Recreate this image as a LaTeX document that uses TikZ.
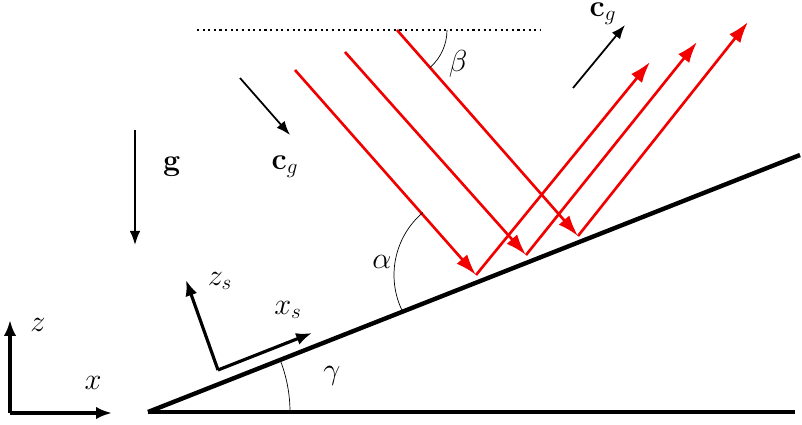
\documentclass[tikz,border=0pt]{standalone}
\usetikzlibrary{arrows.meta}
\begin{document}
\begin{tikzpicture}[x=0.02cm,y=-0.02cm,
 ray/.style={red!95!black,line width=1.5pt,-{Latex[length=12pt,width=8pt]}},
 ax/.style={black,line width=1.8pt,-{Latex[length=9pt,width=7pt]}},
 thin arrow/.style={black,line width=1pt,-{Latex[length=8pt,width=6pt]}},
 lbl/.style={font=\LARGE}]
\useasboundingbox (0,0) rectangle (802,424);
\coordinate (O) at (148,412);
\coordinate (G) at (795,412);
\coordinate (T) at (800,155);
\draw[line width=2.5pt] (O) -- (G);
\draw[line width=2.5pt] (O) -- (T);
\draw (290,412) arc[start angle=0,end angle=-21.5,radius=142];
\node[lbl] (gam) at (332,376) {$\gamma$};
% rays
\foreach \a/\b/\c/\d/\n in {295/70/476/275/1,345/52/526/255/2,397/30/578/236/3}{
 \coordinate (s\n) at (\a,\b); \coordinate (h\n) at (\c,\d);
 \draw[ray] (s\n) -- (h\n);}
\coordinate (e1) at (650,62); \coordinate (e2) at (697,42); \coordinate (e3) at (748,22);
\draw[ray] (h1) -- (e1);
\draw[ray] (h2) -- (e2);
\draw[ray] (h3) -- (e3);
\draw ([shift={(153.4:82)}]h1) arc[start angle=153.4,end angle=229.6,radius=82];
\node[lbl] (alp) at (382,262) {$\alpha$};
\coordinate (d1) at (197,30); \coordinate (d2) at (540,30);
\draw[dotted,line width=1.2pt] (d1) -- (d2);
\draw (447,30) arc[start angle=0,end angle=48.7,radius=50];
\node[lbl] (bet) at (458,64) {$\beta$};
% cg arrows
\coordinate (c1) at (240,78); \coordinate (c2) at (290,135);
\draw[thin arrow] (c1) -- (c2);
\node[lbl] (cgl) at (285,167) {$\mathbf{c}_g$};
\coordinate (c3) at (573,88); \coordinate (c4) at (625,25);
\draw[thin arrow] (c3) -- (c4);
\node[lbl] (cgu) at (603,14) {$\mathbf{c}_g$};
\coordinate (g1) at (135,130); \coordinate (g2) at (135,245);
\draw[thin arrow] (g1) -- (g2);
\node[lbl] (gl) at (172,167) {$\mathbf{g}$};
% s axes
\coordinate (so) at (218,370);
\coordinate (sz) at (186,280); \coordinate (sx) at (312,333);
\draw[ax] (so) -- (sz);
\draw[ax] (so) -- (sx);
\node[lbl] (zs) at (220,281) {$z_s$};
\node[lbl] (xs) at (288,310) {$x_s$};
% xz axes
\coordinate (o) at (10,413);
\coordinate (z) at (10,320); \coordinate (x) at (112,413);
\draw[ax] (o) -- (z);
\draw[ax] (o) -- (x);
\node[lbl] (zl) at (38,325) {$z$};
\node[lbl] (xl) at (93,383) {$x$};
\end{tikzpicture}
\end{document}
